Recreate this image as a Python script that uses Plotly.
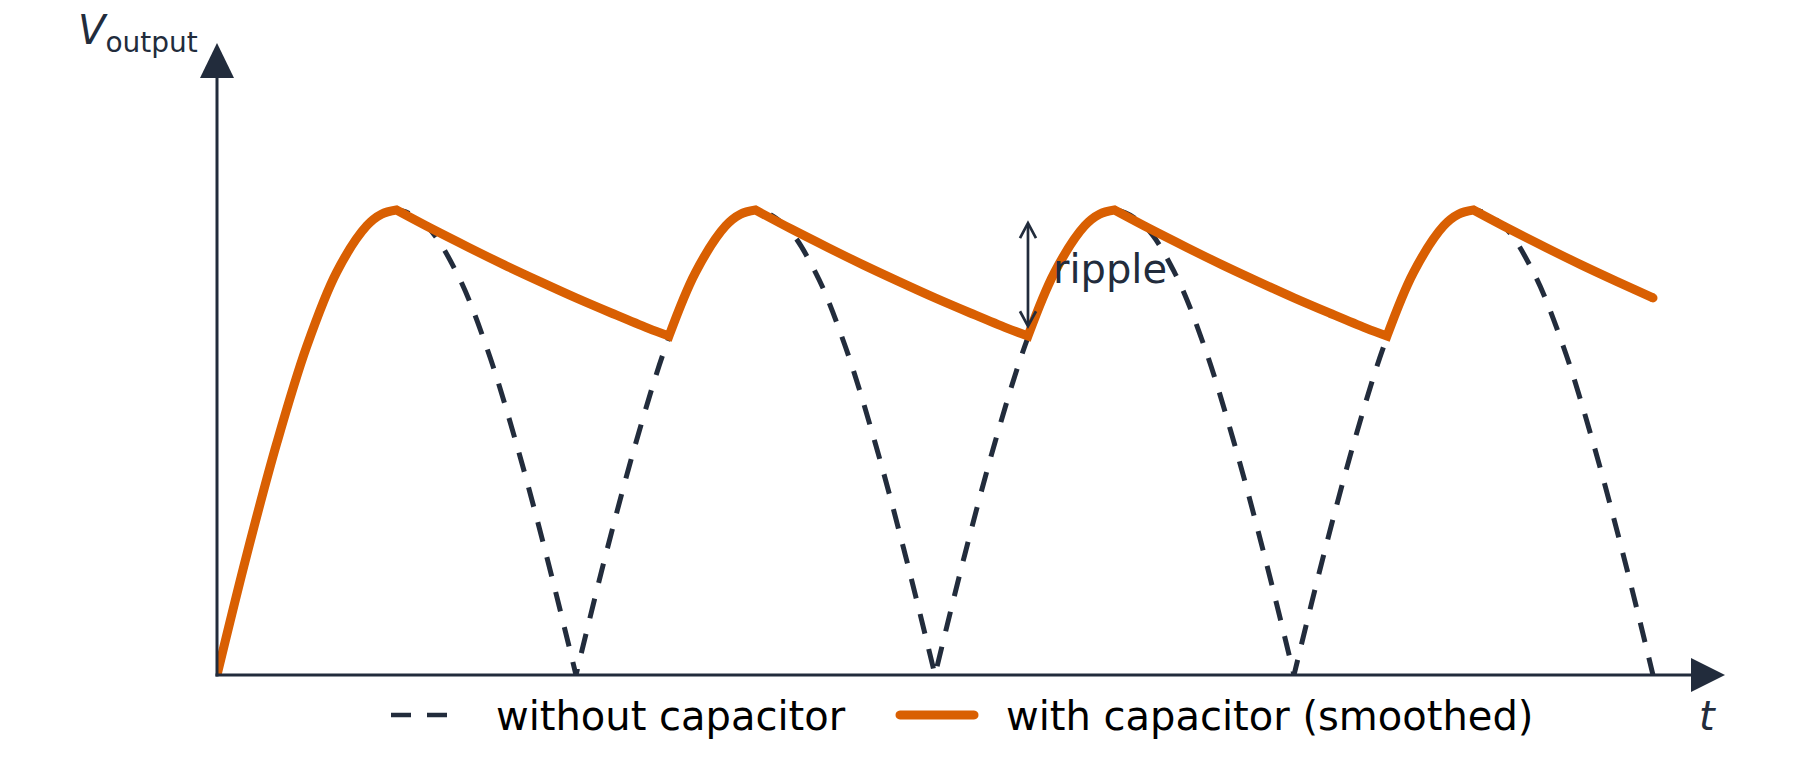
import plotly.graph_objects as go

# ---------------- data (t in half-periods, V normalised to the peak) ----------------
# Full-wave rectified output, no capacitor (arches)
t_without = [0.000, 0.083, 0.167, 0.250, 0.333, 0.417, 0.500, 0.583, 0.667, 0.750, 0.833, 0.917, 1.000,
             1.000, 1.083, 1.167, 1.250, 1.333, 1.417, 1.500, 1.583, 1.667, 1.750, 1.833, 1.917, 2.000,
             2.000, 2.083, 2.167, 2.250, 2.333, 2.417, 2.500, 2.583, 2.667, 2.750, 2.833, 2.917, 3.000,
             3.000, 3.083, 3.167, 3.250, 3.333, 3.417, 3.500, 3.583, 3.667, 3.750, 3.833, 3.917, 4.000]
v_without = [0.000, 0.259, 0.500, 0.707, 0.866, 0.966, 1.000, 0.966, 0.866, 0.707, 0.500, 0.259, 0.000,
             0.000, 0.259, 0.500, 0.707, 0.866, 0.966, 1.000, 0.966, 0.866, 0.707, 0.500, 0.259, 0.000,
             0.000, 0.259, 0.500, 0.707, 0.866, 0.966, 1.000, 0.966, 0.866, 0.707, 0.500, 0.259, 0.000,
             0.000, 0.259, 0.500, 0.707, 0.866, 0.966, 1.000, 0.966, 0.866, 0.707, 0.500, 0.259, 0.000]

# Output with smoothing capacitor (rise with the arch, then slow discharge)
t_with = [0.000, 0.083, 0.167, 0.250, 0.333, 0.417, 0.458, 0.500, 0.500,
          0.600, 0.700, 0.800, 0.900, 1.000, 1.100, 1.200, 1.259,
          1.259, 1.333, 1.417, 1.458, 1.500, 1.500,
          1.600, 1.700, 1.800, 1.900, 2.000, 2.100, 2.200, 2.259,
          2.259, 2.333, 2.417, 2.458, 2.500, 2.500,
          2.600, 2.700, 2.800, 2.900, 3.000, 3.100, 3.200, 3.259,
          3.259, 3.333, 3.417, 3.458, 3.500, 3.500,
          3.600, 3.700, 3.800, 3.900, 4.000]
v_with = [0.000, 0.259, 0.500, 0.707, 0.866, 0.966, 0.991, 1.000, 1.000,
          0.959, 0.920, 0.882, 0.846, 0.811, 0.778, 0.746, 0.729,
          0.729, 0.866, 0.966, 0.991, 1.000, 1.000,
          0.959, 0.920, 0.882, 0.846, 0.811, 0.778, 0.746, 0.729,
          0.729, 0.866, 0.966, 0.991, 1.000, 1.000,
          0.959, 0.920, 0.882, 0.846, 0.811, 0.778, 0.746, 0.729,
          0.729, 0.866, 0.966, 0.991, 1.000, 1.000,
          0.959, 0.920, 0.882, 0.846, 0.811]

series_names = ["without capacitor", "with capacitor (smoothed)"]
y_label = "<i>V</i><sub>output</sub>"
x_label = "<i>t</i>"
ripple_label = "ripple"
ripple_t = 2.259
ripple_v = [0.75, 0.972]

# ---------------- style / layout ----------------
W, H = 1800, 769
ML, MR, MT, MB = 217, 75, 43, 94
PX_PER_T, PX_PER_V = 359.0, 465.0
X_MAX = (W - ML - MR) / PX_PER_T
Y_MAX = (H - MT - MB) / PX_PER_V
NAVY = "#222c3c"
ORANGE = "#d95f02"
FONT = "DejaVu Sans"
FS = 40


def px(xp):
    return (xp - ML) / (W - ML - MR)


def py(yp):
    return (H - MB - yp) / (H - MT - MB)


def t2px(t):
    return ML + t * PX_PER_T


def v2px(v):
    return H - MB - v * PX_PER_V


fig = go.Figure()
fig.add_trace(go.Scatter(
    x=t_without, y=v_without, mode="lines", name=series_names[0], showlegend=False,
    line=dict(color=NAVY, width=5, dash="20px,16px", shape="spline", simplify=False),
    hoverinfo="skip"))
fig.add_trace(go.Scatter(
    x=t_with, y=v_with, mode="lines", name=series_names[1], showlegend=False,
    line=dict(color=ORANGE, width=9, shape="spline", simplify=False),
    hoverinfo="skip"))

# ripple double arrow geometry (pixels)
rx = t2px(ripple_t)
r_top = v2px(ripple_v[1])
r_bot = v2px(ripple_v[0])
# rounded end of the smoothed curve
end_x, end_y = t2px(t_with[-1]), v2px(v_with[-1])

shapes = [
    # axes
    dict(type="line", xref="paper", yref="paper", x0=px(217), x1=px(217), y0=py(676.5), y1=py(78),
         line=dict(color=NAVY, width=3)),
    dict(type="line", xref="paper", yref="paper", x0=px(215.5), x1=px(1692), y0=py(675), y1=py(675),
         line=dict(color=NAVY, width=3)),
    dict(type="path", xref="paper", yref="paper",
         path=f"M {px(200)},{py(78)} L {px(217)},{py(43)} L {px(234)},{py(78)} Z",
         fillcolor=NAVY, line=dict(width=0)),
    dict(type="path", xref="paper", yref="paper",
         path=f"M {px(1691)},{py(658)} L {px(1725)},{py(675)} L {px(1691)},{py(692)} Z",
         fillcolor=NAVY, line=dict(width=0)),
    # ripple arrow
    dict(type="line", xref="paper", yref="paper", x0=px(rx), x1=px(rx), y0=py(r_top + 1), y1=py(r_bot - 1),
         line=dict(color=NAVY, width=2.7)),
    dict(type="path", xref="paper", yref="paper",
         path=f"M {px(rx - 8)},{py(r_top + 15)} L {px(rx)},{py(r_top)} L {px(rx + 8)},{py(r_top + 15)}",
         line=dict(color=NAVY, width=2.7)),
    dict(type="path", xref="paper", yref="paper",
         path=f"M {px(rx - 8)},{py(r_bot - 15)} L {px(rx)},{py(r_bot)} L {px(rx + 8)},{py(r_bot - 15)}",
         line=dict(color=NAVY, width=2.7)),
    # round cap at the end of the orange curve
    dict(type="circle", xref="paper", yref="paper", x0=px(end_x - 4.5), x1=px(end_x + 4.5),
         y0=py(end_y + 4.5), y1=py(end_y - 4.5), fillcolor=ORANGE, line=dict(width=0)),
    # legend samples
    dict(type="line", xref="paper", yref="paper", x0=px(391), x1=px(448), y0=py(715), y1=py(715),
         line=dict(color=NAVY, width=4.5, dash="20px,16px")),
    dict(type="path", xref="paper", yref="paper",
         path=(f"M {px(900)},{py(710.5)} L {px(974)},{py(710.5)} "
               f"C {px(980)},{py(710.5)} {px(980)},{py(719.5)} {px(974)},{py(719.5)} "
               f"L {px(900)},{py(719.5)} "
               f"C {px(894)},{py(719.5)} {px(894)},{py(710.5)} {px(900)},{py(710.5)} Z"),
         fillcolor=ORANGE, line=dict(width=0)),
]

annotations = [
    dict(xref="paper", yref="paper", x=px(76), y=py(33), xanchor="left", yanchor="middle",
         text=y_label, showarrow=False, font=dict(family=FONT, size=FS, color=NAVY)),
    dict(xref="paper", yref="paper", x=px(1707), y=py(716), xanchor="center", yanchor="middle",
         text=x_label, showarrow=False, font=dict(family=FONT, size=FS, color=NAVY)),
    dict(xref="paper", yref="paper", x=px(494), y=py(716), xanchor="left", yanchor="middle",
         text=series_names[0], showarrow=False, font=dict(family=FONT, size=FS, color="#000000")),
    dict(xref="paper", yref="paper", x=px(1004), y=py(716), xanchor="left", yanchor="middle",
         text=series_names[1], showarrow=False, font=dict(family=FONT, size=FS, color="#000000")),
    dict(xref="x", yref="y", x=2.322, y=0.874, xanchor="left", yanchor="middle",
         text=ripple_label, showarrow=False, font=dict(family=FONT, size=FS, color=NAVY)),
]

fig.update_layout(
    width=W, height=H,
    margin=dict(l=ML, r=MR, t=MT, b=MB, pad=0),
    paper_bgcolor="white", plot_bgcolor="white",
    xaxis=dict(range=[0, X_MAX], visible=False, fixedrange=True),
    yaxis=dict(range=[0, Y_MAX], visible=False, fixedrange=True),
    shapes=shapes, annotations=annotations,
    showlegend=False,
    font=dict(family=FONT, size=FS, color=NAVY),
)

fig.write_html("out.html")
